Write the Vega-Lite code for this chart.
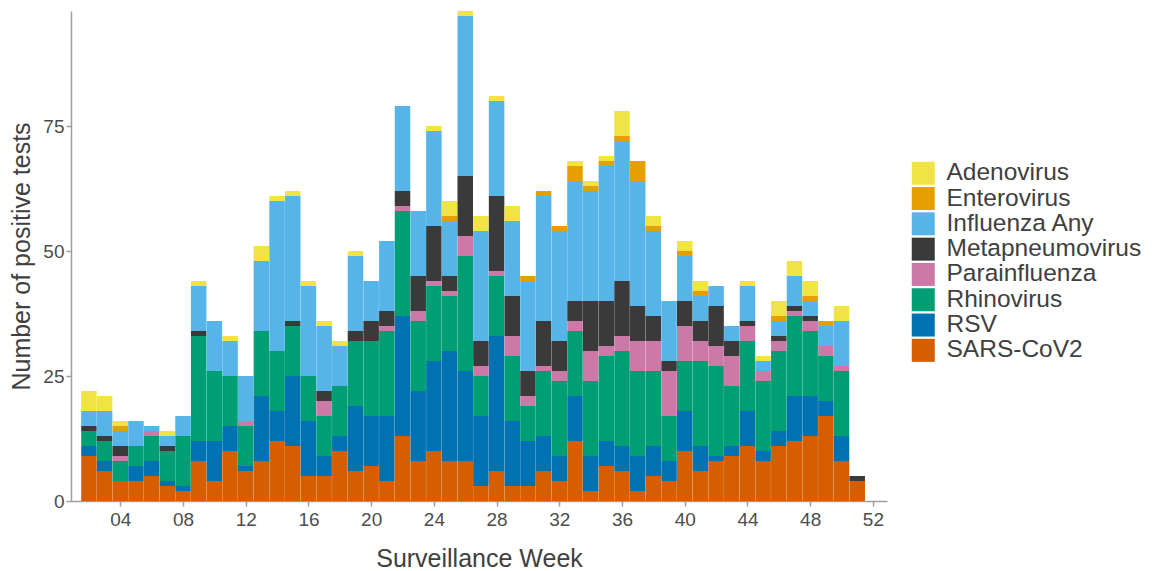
{
  "$schema": "https://vega.github.io/schema/vega-lite/v6.json",
  "width": 816,
  "height": 490,
  "autosize": {"type": "none"},
  "padding": {"left": 71, "top": 11, "right": 269, "bottom": 70},
  "background": "white",
  "config": {"view": {"stroke": null}, "font": "Liberation Sans", "axis": {"grid": false}},
  "data": {"values": [
    {"week":2,"virus":"SARS-CoV2","n":9},{"week":2,"virus":"RSV","n":2},{"week":2,"virus":"Rhinovirus","n":3},{"week":2,"virus":"Metapneumovirus","n":1},{"week":2,"virus":"Influenza Any","n":3},{"week":2,"virus":"Adenovirus","n":4},
    {"week":3,"virus":"SARS-CoV2","n":6},{"week":3,"virus":"RSV","n":2},{"week":3,"virus":"Rhinovirus","n":4},{"week":3,"virus":"Metapneumovirus","n":1},{"week":3,"virus":"Influenza Any","n":5},{"week":3,"virus":"Adenovirus","n":3},
    {"week":4,"virus":"SARS-CoV2","n":4},{"week":4,"virus":"Rhinovirus","n":4},{"week":4,"virus":"Parainfluenza","n":1},{"week":4,"virus":"Metapneumovirus","n":2},{"week":4,"virus":"Influenza Any","n":3},{"week":4,"virus":"Enterovirus","n":1},{"week":4,"virus":"Adenovirus","n":1},
    {"week":5,"virus":"SARS-CoV2","n":4},{"week":5,"virus":"RSV","n":3},{"week":5,"virus":"Rhinovirus","n":4},{"week":5,"virus":"Influenza Any","n":5},
    {"week":6,"virus":"SARS-CoV2","n":5},{"week":6,"virus":"RSV","n":3},{"week":6,"virus":"Rhinovirus","n":5},{"week":6,"virus":"Parainfluenza","n":1},{"week":6,"virus":"Influenza Any","n":1},
    {"week":7,"virus":"SARS-CoV2","n":3},{"week":7,"virus":"RSV","n":1},{"week":7,"virus":"Rhinovirus","n":6},{"week":7,"virus":"Metapneumovirus","n":1},{"week":7,"virus":"Influenza Any","n":2},{"week":7,"virus":"Adenovirus","n":1},
    {"week":8,"virus":"SARS-CoV2","n":2},{"week":8,"virus":"RSV","n":1},{"week":8,"virus":"Rhinovirus","n":10},{"week":8,"virus":"Influenza Any","n":4},
    {"week":9,"virus":"SARS-CoV2","n":8},{"week":9,"virus":"RSV","n":4},{"week":9,"virus":"Rhinovirus","n":21},{"week":9,"virus":"Metapneumovirus","n":1},{"week":9,"virus":"Influenza Any","n":9},{"week":9,"virus":"Adenovirus","n":1},
    {"week":10,"virus":"SARS-CoV2","n":4},{"week":10,"virus":"RSV","n":8},{"week":10,"virus":"Rhinovirus","n":14},{"week":10,"virus":"Influenza Any","n":10},
    {"week":11,"virus":"SARS-CoV2","n":10},{"week":11,"virus":"RSV","n":5},{"week":11,"virus":"Rhinovirus","n":10},{"week":11,"virus":"Influenza Any","n":7},{"week":11,"virus":"Adenovirus","n":1},
    {"week":12,"virus":"SARS-CoV2","n":6},{"week":12,"virus":"RSV","n":1},{"week":12,"virus":"Rhinovirus","n":8},{"week":12,"virus":"Parainfluenza","n":1},{"week":12,"virus":"Influenza Any","n":9},
    {"week":13,"virus":"SARS-CoV2","n":8},{"week":13,"virus":"RSV","n":13},{"week":13,"virus":"Rhinovirus","n":13},{"week":13,"virus":"Influenza Any","n":14},{"week":13,"virus":"Adenovirus","n":3},
    {"week":14,"virus":"SARS-CoV2","n":12},{"week":14,"virus":"RSV","n":6},{"week":14,"virus":"Rhinovirus","n":12},{"week":14,"virus":"Influenza Any","n":30},{"week":14,"virus":"Adenovirus","n":1},
    {"week":15,"virus":"SARS-CoV2","n":11},{"week":15,"virus":"RSV","n":14},{"week":15,"virus":"Rhinovirus","n":10},{"week":15,"virus":"Metapneumovirus","n":1},{"week":15,"virus":"Influenza Any","n":25},{"week":15,"virus":"Adenovirus","n":1},
    {"week":16,"virus":"SARS-CoV2","n":5},{"week":16,"virus":"RSV","n":11},{"week":16,"virus":"Rhinovirus","n":9},{"week":16,"virus":"Influenza Any","n":18},{"week":16,"virus":"Adenovirus","n":1},
    {"week":17,"virus":"SARS-CoV2","n":5},{"week":17,"virus":"RSV","n":4},{"week":17,"virus":"Rhinovirus","n":8},{"week":17,"virus":"Parainfluenza","n":3},{"week":17,"virus":"Metapneumovirus","n":2},{"week":17,"virus":"Influenza Any","n":13},{"week":17,"virus":"Adenovirus","n":1},
    {"week":18,"virus":"SARS-CoV2","n":10},{"week":18,"virus":"RSV","n":3},{"week":18,"virus":"Rhinovirus","n":10},{"week":18,"virus":"Influenza Any","n":8},{"week":18,"virus":"Adenovirus","n":1},
    {"week":19,"virus":"SARS-CoV2","n":6},{"week":19,"virus":"RSV","n":13},{"week":19,"virus":"Rhinovirus","n":13},{"week":19,"virus":"Metapneumovirus","n":2},{"week":19,"virus":"Influenza Any","n":15},{"week":19,"virus":"Adenovirus","n":1},
    {"week":20,"virus":"SARS-CoV2","n":7},{"week":20,"virus":"RSV","n":10},{"week":20,"virus":"Rhinovirus","n":15},{"week":20,"virus":"Metapneumovirus","n":4},{"week":20,"virus":"Influenza Any","n":8},
    {"week":21,"virus":"SARS-CoV2","n":4},{"week":21,"virus":"RSV","n":13},{"week":21,"virus":"Rhinovirus","n":17},{"week":21,"virus":"Parainfluenza","n":1},{"week":21,"virus":"Metapneumovirus","n":3},{"week":21,"virus":"Influenza Any","n":14},
    {"week":22,"virus":"SARS-CoV2","n":13},{"week":22,"virus":"RSV","n":24},{"week":22,"virus":"Rhinovirus","n":21},{"week":22,"virus":"Parainfluenza","n":1},{"week":22,"virus":"Metapneumovirus","n":3},{"week":22,"virus":"Influenza Any","n":17},
    {"week":23,"virus":"SARS-CoV2","n":8},{"week":23,"virus":"RSV","n":14},{"week":23,"virus":"Rhinovirus","n":14},{"week":23,"virus":"Parainfluenza","n":2},{"week":23,"virus":"Metapneumovirus","n":7},{"week":23,"virus":"Influenza Any","n":13},
    {"week":24,"virus":"SARS-CoV2","n":10},{"week":24,"virus":"RSV","n":18},{"week":24,"virus":"Rhinovirus","n":15},{"week":24,"virus":"Parainfluenza","n":1},{"week":24,"virus":"Metapneumovirus","n":11},{"week":24,"virus":"Influenza Any","n":19},{"week":24,"virus":"Adenovirus","n":1},
    {"week":25,"virus":"SARS-CoV2","n":8},{"week":25,"virus":"RSV","n":22},{"week":25,"virus":"Rhinovirus","n":11},{"week":25,"virus":"Parainfluenza","n":1},{"week":25,"virus":"Metapneumovirus","n":3},{"week":25,"virus":"Influenza Any","n":11},{"week":25,"virus":"Enterovirus","n":1},{"week":25,"virus":"Adenovirus","n":3},
    {"week":26,"virus":"SARS-CoV2","n":8},{"week":26,"virus":"RSV","n":18},{"week":26,"virus":"Rhinovirus","n":23},{"week":26,"virus":"Parainfluenza","n":4},{"week":26,"virus":"Metapneumovirus","n":12},{"week":26,"virus":"Influenza Any","n":32},{"week":26,"virus":"Adenovirus","n":1},
    {"week":27,"virus":"SARS-CoV2","n":3},{"week":27,"virus":"RSV","n":14},{"week":27,"virus":"Rhinovirus","n":8},{"week":27,"virus":"Parainfluenza","n":2},{"week":27,"virus":"Metapneumovirus","n":5},{"week":27,"virus":"Influenza Any","n":22},{"week":27,"virus":"Adenovirus","n":3},
    {"week":28,"virus":"SARS-CoV2","n":6},{"week":28,"virus":"RSV","n":27},{"week":28,"virus":"Rhinovirus","n":12},{"week":28,"virus":"Parainfluenza","n":1},{"week":28,"virus":"Metapneumovirus","n":15},{"week":28,"virus":"Influenza Any","n":19},{"week":28,"virus":"Adenovirus","n":1},
    {"week":29,"virus":"SARS-CoV2","n":3},{"week":29,"virus":"RSV","n":13},{"week":29,"virus":"Rhinovirus","n":13},{"week":29,"virus":"Parainfluenza","n":4},{"week":29,"virus":"Metapneumovirus","n":8},{"week":29,"virus":"Influenza Any","n":15},{"week":29,"virus":"Adenovirus","n":3},
    {"week":30,"virus":"SARS-CoV2","n":3},{"week":30,"virus":"RSV","n":9},{"week":30,"virus":"Rhinovirus","n":7},{"week":30,"virus":"Parainfluenza","n":2},{"week":30,"virus":"Metapneumovirus","n":5},{"week":30,"virus":"Influenza Any","n":18},{"week":30,"virus":"Enterovirus","n":1},
    {"week":31,"virus":"SARS-CoV2","n":6},{"week":31,"virus":"RSV","n":7},{"week":31,"virus":"Rhinovirus","n":13},{"week":31,"virus":"Parainfluenza","n":1},{"week":31,"virus":"Metapneumovirus","n":9},{"week":31,"virus":"Influenza Any","n":25},{"week":31,"virus":"Enterovirus","n":1},
    {"week":32,"virus":"SARS-CoV2","n":4},{"week":32,"virus":"RSV","n":5},{"week":32,"virus":"Rhinovirus","n":15},{"week":32,"virus":"Parainfluenza","n":2},{"week":32,"virus":"Metapneumovirus","n":6},{"week":32,"virus":"Influenza Any","n":22},{"week":32,"virus":"Enterovirus","n":1},
    {"week":33,"virus":"SARS-CoV2","n":12},{"week":33,"virus":"RSV","n":9},{"week":33,"virus":"Rhinovirus","n":13},{"week":33,"virus":"Parainfluenza","n":2},{"week":33,"virus":"Metapneumovirus","n":4},{"week":33,"virus":"Influenza Any","n":24},{"week":33,"virus":"Enterovirus","n":3},{"week":33,"virus":"Adenovirus","n":1},
    {"week":34,"virus":"SARS-CoV2","n":2},{"week":34,"virus":"RSV","n":7},{"week":34,"virus":"Rhinovirus","n":15},{"week":34,"virus":"Parainfluenza","n":6},{"week":34,"virus":"Metapneumovirus","n":10},{"week":34,"virus":"Influenza Any","n":22},{"week":34,"virus":"Enterovirus","n":1},{"week":34,"virus":"Adenovirus","n":1},
    {"week":35,"virus":"SARS-CoV2","n":7},{"week":35,"virus":"RSV","n":5},{"week":35,"virus":"Rhinovirus","n":17},{"week":35,"virus":"Parainfluenza","n":2},{"week":35,"virus":"Metapneumovirus","n":9},{"week":35,"virus":"Influenza Any","n":27},{"week":35,"virus":"Enterovirus","n":1},{"week":35,"virus":"Adenovirus","n":1},
    {"week":36,"virus":"SARS-CoV2","n":6},{"week":36,"virus":"RSV","n":5},{"week":36,"virus":"Rhinovirus","n":19},{"week":36,"virus":"Parainfluenza","n":3},{"week":36,"virus":"Metapneumovirus","n":11},{"week":36,"virus":"Influenza Any","n":28},{"week":36,"virus":"Enterovirus","n":1},{"week":36,"virus":"Adenovirus","n":5},
    {"week":37,"virus":"SARS-CoV2","n":2},{"week":37,"virus":"RSV","n":7},{"week":37,"virus":"Rhinovirus","n":17},{"week":37,"virus":"Parainfluenza","n":6},{"week":37,"virus":"Metapneumovirus","n":7},{"week":37,"virus":"Influenza Any","n":25},{"week":37,"virus":"Enterovirus","n":4},
    {"week":38,"virus":"SARS-CoV2","n":5},{"week":38,"virus":"RSV","n":6},{"week":38,"virus":"Rhinovirus","n":15},{"week":38,"virus":"Parainfluenza","n":6},{"week":38,"virus":"Metapneumovirus","n":5},{"week":38,"virus":"Influenza Any","n":17},{"week":38,"virus":"Enterovirus","n":1},{"week":38,"virus":"Adenovirus","n":2},
    {"week":39,"virus":"SARS-CoV2","n":4},{"week":39,"virus":"RSV","n":4},{"week":39,"virus":"Rhinovirus","n":9},{"week":39,"virus":"Parainfluenza","n":9},{"week":39,"virus":"Metapneumovirus","n":2},{"week":39,"virus":"Influenza Any","n":12},
    {"week":40,"virus":"SARS-CoV2","n":10},{"week":40,"virus":"RSV","n":8},{"week":40,"virus":"Rhinovirus","n":10},{"week":40,"virus":"Parainfluenza","n":7},{"week":40,"virus":"Metapneumovirus","n":5},{"week":40,"virus":"Influenza Any","n":9},{"week":40,"virus":"Enterovirus","n":1},{"week":40,"virus":"Adenovirus","n":2},
    {"week":41,"virus":"SARS-CoV2","n":6},{"week":41,"virus":"RSV","n":5},{"week":41,"virus":"Rhinovirus","n":17},{"week":41,"virus":"Parainfluenza","n":4},{"week":41,"virus":"Metapneumovirus","n":4},{"week":41,"virus":"Influenza Any","n":5},{"week":41,"virus":"Enterovirus","n":1},{"week":41,"virus":"Adenovirus","n":2},
    {"week":42,"virus":"SARS-CoV2","n":8},{"week":42,"virus":"RSV","n":1},{"week":42,"virus":"Rhinovirus","n":18},{"week":42,"virus":"Parainfluenza","n":4},{"week":42,"virus":"Metapneumovirus","n":8},{"week":42,"virus":"Influenza Any","n":4},
    {"week":43,"virus":"SARS-CoV2","n":9},{"week":43,"virus":"RSV","n":2},{"week":43,"virus":"Rhinovirus","n":12},{"week":43,"virus":"Parainfluenza","n":6},{"week":43,"virus":"Metapneumovirus","n":3},{"week":43,"virus":"Influenza Any","n":3},
    {"week":44,"virus":"SARS-CoV2","n":11},{"week":44,"virus":"RSV","n":7},{"week":44,"virus":"Rhinovirus","n":14},{"week":44,"virus":"Parainfluenza","n":3},{"week":44,"virus":"Metapneumovirus","n":1},{"week":44,"virus":"Influenza Any","n":7},{"week":44,"virus":"Adenovirus","n":1},
    {"week":45,"virus":"SARS-CoV2","n":8},{"week":45,"virus":"RSV","n":2},{"week":45,"virus":"Rhinovirus","n":14},{"week":45,"virus":"Parainfluenza","n":2},{"week":45,"virus":"Influenza Any","n":2},{"week":45,"virus":"Adenovirus","n":1},
    {"week":46,"virus":"SARS-CoV2","n":11},{"week":46,"virus":"RSV","n":3},{"week":46,"virus":"Rhinovirus","n":16},{"week":46,"virus":"Parainfluenza","n":2},{"week":46,"virus":"Metapneumovirus","n":1},{"week":46,"virus":"Influenza Any","n":3},{"week":46,"virus":"Enterovirus","n":1},{"week":46,"virus":"Adenovirus","n":3},
    {"week":47,"virus":"SARS-CoV2","n":12},{"week":47,"virus":"RSV","n":9},{"week":47,"virus":"Rhinovirus","n":16},{"week":47,"virus":"Parainfluenza","n":1},{"week":47,"virus":"Metapneumovirus","n":1},{"week":47,"virus":"Influenza Any","n":6},{"week":47,"virus":"Adenovirus","n":3},
    {"week":48,"virus":"SARS-CoV2","n":13},{"week":48,"virus":"RSV","n":8},{"week":48,"virus":"Rhinovirus","n":13},{"week":48,"virus":"Parainfluenza","n":2},{"week":48,"virus":"Metapneumovirus","n":1},{"week":48,"virus":"Influenza Any","n":3},{"week":48,"virus":"Enterovirus","n":1},{"week":48,"virus":"Adenovirus","n":3},
    {"week":49,"virus":"SARS-CoV2","n":17},{"week":49,"virus":"RSV","n":3},{"week":49,"virus":"Rhinovirus","n":9},{"week":49,"virus":"Parainfluenza","n":2},{"week":49,"virus":"Influenza Any","n":4},{"week":49,"virus":"Enterovirus","n":1},
    {"week":50,"virus":"SARS-CoV2","n":8},{"week":50,"virus":"RSV","n":5},{"week":50,"virus":"Rhinovirus","n":13},{"week":50,"virus":"Parainfluenza","n":1},{"week":50,"virus":"Influenza Any","n":9},{"week":50,"virus":"Adenovirus","n":3},
    {"week":51,"virus":"SARS-CoV2","n":4},{"week":51,"virus":"Metapneumovirus","n":1}
  ]},
  "transform": [
    {"calculate": "indexof(['SARS-CoV2', 'RSV', 'Rhinovirus', 'Parainfluenza', 'Metapneumovirus', 'Influenza Any', 'Enterovirus', 'Adenovirus'], datum.virus)", "as": "stack_order"}
  ],
  "mark": {"type": "bar", "width": 15.5},
  "encoding": {
    "x": {
      "field": "week", "type": "quantitative",
      "scale": {"domain": [0.856, 52.9], "nice": false, "zero": false, "padding": 0},
      "axis": {
        "values": [4, 8, 12, 16, 20, 24, 28, 32, 36, 40, 44, 48, 52],
        "labelExpr": "datum.value < 10 ? '0' + datum.value : '' + datum.value",
        "title": "Surveillance Week",
        "domainColor": "#9E9E9E", "domainWidth": 1.5,
        "tickColor": "#9E9E9E", "tickWidth": 1.5, "tickSize": 5,
        "labelFontSize": 19, "labelColor": "#4D4D4D", "labelPadding": 4,
        "titleFontSize": 25, "titleColor": "#404040", "titleFontWeight": "normal", "titlePadding": 17
      }
    },
    "y": {
      "field": "n", "type": "quantitative", "stack": "zero",
      "scale": {"domain": [0, 98], "nice": false},
      "axis": {
        "values": [0, 25, 50, 75],
        "title": "Number of positive tests",
        "domainColor": "#9E9E9E", "domainWidth": 1.5,
        "tickColor": "#9E9E9E", "tickWidth": 1.5, "tickSize": 5,
        "labelFontSize": 19, "labelColor": "#4D4D4D", "labelPadding": 2,
        "titleFontSize": 25, "titleColor": "#404040", "titleFontWeight": "normal", "titlePadding": 8
      }
    },
    "order": {"field": "stack_order", "type": "quantitative", "sort": "ascending"},
    "color": {
      "field": "virus", "type": "nominal",
      "sort": ["Adenovirus", "Enterovirus", "Influenza Any", "Metapneumovirus", "Parainfluenza", "Rhinovirus", "RSV", "SARS-CoV2"],
      "scale": {
        "domain": ["Adenovirus", "Enterovirus", "Influenza Any", "Metapneumovirus", "Parainfluenza", "Rhinovirus", "RSV", "SARS-CoV2"],
        "range": ["#F0E442", "#E69F00", "#56B4E9", "#3A3A3A", "#CC79A7", "#009E73", "#0072B2", "#D55E00"]
      },
      "legend": {
        "orient": "none", "legendX": 840, "legendY": 150, "title": null,
        "symbolType": "square", "symbolSize": 529, "symbolStrokeWidth": 0, "symbolOpacity": 1,
        "labelFontSize": 24.5, "labelColor": "#404040", "labelOffset": 11, "labelLimit": 400, "rowPadding": 0.3, "padding": 0
      }
    }
  }
}
